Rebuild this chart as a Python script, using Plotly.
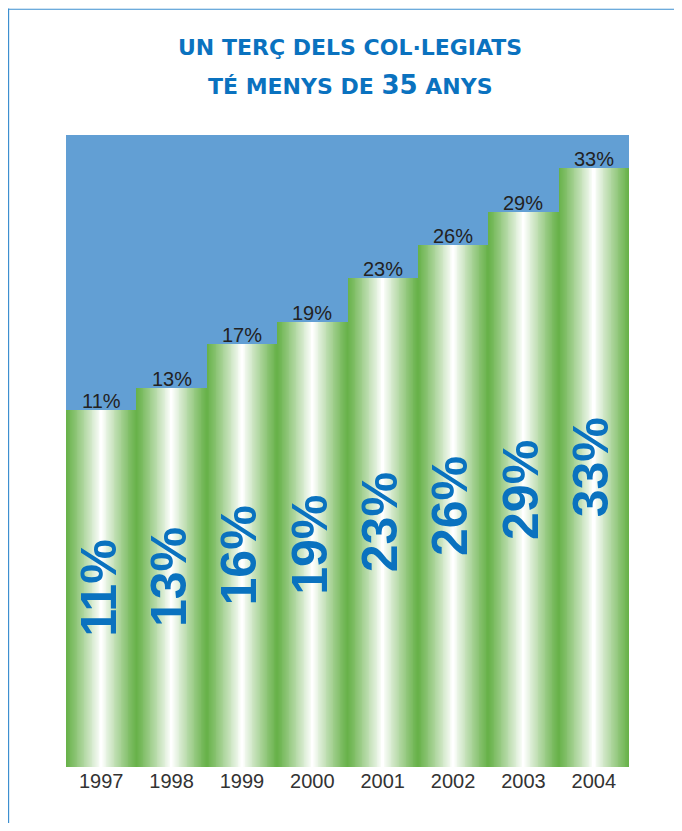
import plotly.graph_objects as go

# data
years = ["1997", "1998", "1999", "2000", "2001", "2002", "2003", "2004"]
share = [11, 13, 17, 19, 23, 26, 29, 33]
top_labels = ["11%", "13%", "17%", "19%", "23%", "26%", "29%", "33%"]
inner_labels = ["11%", "13%", "16%", "19%", "23%", "26%", "29%", "33%"]

# the bars do not start at zero in the original, they start at the axis floor
floor = -21.45
ceiling = 36

GREEN = (104, 178, 74)
WHITE = (255, 255, 255)
BLUE_BG = "#629fd4"
BLUE_TXT = "#0a72bf"


def mix(c1, c2, t):
    return "rgb(%d,%d,%d)" % tuple(round(a + (b - a) * t) for a, b in zip(c1, c2))


fig = go.Figure()

# horizontal green -> white -> green gradient faked with nested bars
layers = 40
for i in range(layers):
    w = 1.0 - i / layers
    t = (i / (layers - 1)) ** 1.1
    fig.add_trace(go.Bar(
        x=years,
        y=[v - floor for v in share],
        base=floor,
        width=w,
        marker=dict(color=mix(GREEN, WHITE, t), line=dict(width=0)),
        hoverinfo="skip",
        showlegend=False,
    ))

# small labels on top of each bar (x given as category index)
for k, (v, lab) in enumerate(zip(share, top_labels)):
    fig.add_annotation(x=k, y=v, text=lab, showarrow=False, yanchor="bottom", yshift=-4,
                       font=dict(family="Liberation Sans, Arial", size=20, color="#222222"))

# big rotated labels inside the bars
for k, (v, lab) in enumerate(zip(share, inner_labels)):
    fig.add_annotation(x=k, y=(v + floor) / 2, text="<b>%s</b>" % lab, showarrow=False,
                       textangle=-90, xshift=-3,
                       font=dict(family="Liberation Sans Narrow, Arial Narrow, Liberation Sans",
                                 size=50, color=BLUE_TXT))

# title
fig.add_annotation(
    xref="paper", yref="paper", x=0.504, y=1.0, yshift=88, yanchor="middle",
    text="<b>UN TERÇ DELS COL·LEGIATS</b>", showarrow=False,
    font=dict(family="DejaVu Sans, Liberation Sans", size=22, color=BLUE_TXT))
fig.add_annotation(
    xref="paper", yref="paper", x=0.504, y=1.0, yshift=50, yanchor="middle",
    text="<b>TÉ MENYS DE <span style='font-size:26px'>35</span> ANYS</b>", showarrow=False,
    font=dict(family="DejaVu Sans, Liberation Sans", size=22, color=BLUE_TXT))

# thin blue frame on the left and top of the page
fig.add_shape(type="line", xref="paper", yref="paper", x0=-0.102, x1=-0.102, y0=1.2, y1=-0.12,
              line=dict(color="#3d8fd0", width=1.2))
fig.add_shape(type="line", xref="paper", yref="paper", x0=-0.102, x1=1.12, y0=1.199, y1=1.199,
              line=dict(color="#3d8fd0", width=1.2))

fig.update_layout(
    width=666,
    height=815,
    barmode="overlay",
    bargap=0,
    plot_bgcolor=BLUE_BG,
    paper_bgcolor="white",
    margin=dict(l=58, r=45, t=127, b=56),
    xaxis=dict(type="category", range=[-0.5, len(years) - 0.5], showgrid=False, zeroline=False,
               showline=False, ticks="",
               tickfont=dict(family="Liberation Sans, Arial", size=20, color="#333333")),
    yaxis=dict(range=[floor, ceiling], visible=False, fixedrange=True),
    hovermode=False,
)

fig.write_html("out.html")
